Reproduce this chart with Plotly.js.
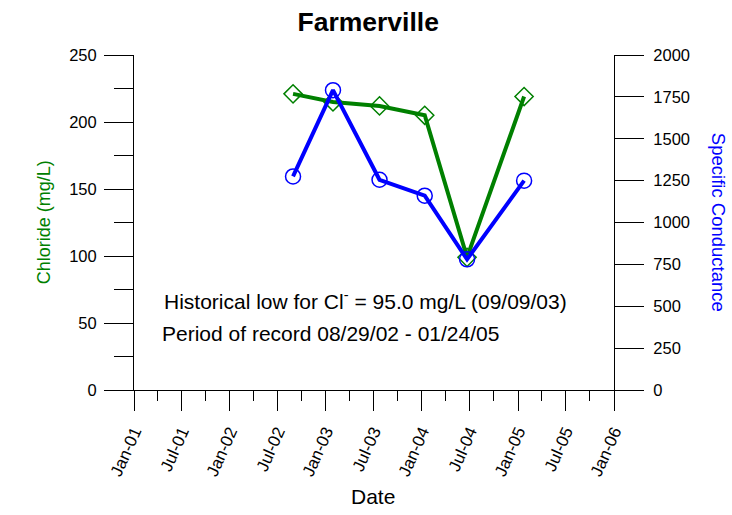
<!DOCTYPE html>
<html>
<head>
<meta charset="utf-8">
<script src="https://cdn.plot.ly/plotly-3.0.1.min.js"></script>
<style>html,body{margin:0;padding:0;background:#fff;}#chart{width:732px;height:515px;}</style>
</head>
<body>
<div id="chart"></div>
<script>
const sampleDates = ['2002-08-29','2003-01-28','2003-07-24','2004-01-12','2004-06-21','2005-01-24'];
const chloride = [221, 215, 212, 205, 99, 219];
const specCond = [1275, 1790, 1255, 1160, 780, 1250];
const chartTitle = 'Farmerville';
const note1 = 'Historical low for Cl<sup>-</sup> = 95.0 mg/L (09/09/03)';
const note2 = 'Period of record 08/29/02 - 01/24/05';

const GREEN = '#008000', BLUE = '#0000ff';
const FONT = 'Liberation Sans, Arial, sans-serif';

const traces = [
  {x: sampleDates, y: chloride, type: 'scatter', mode: 'lines+markers', yaxis: 'y',
   line: {color: GREEN, width: 4},
   marker: {symbol: 'diamond-open', size: 14, color: GREEN, line: {color: GREEN, width: 1.5}},
   cliponaxis: false},
  {x: sampleDates, y: specCond, type: 'scatter', mode: 'lines+markers', yaxis: 'y2',
   line: {color: BLUE, width: 4},
   marker: {symbol: 'circle-open', size: 15, color: BLUE, line: {color: BLUE, width: 1.5}},
   cliponaxis: false}
];

const layout = {
  width: 732, height: 515,
  margin: {l: 134, r: 118, t: 55, b: 125},
  paper_bgcolor: '#fff', plot_bgcolor: '#fff',
  showlegend: false,
  font: {family: FONT, color: '#000', size: 15},
  title: {text: '<b>' + chartTitle + '</b>', font: {size: 26.5, family: FONT, color: '#000'},
          x: 0.503, xanchor: 'center', y: 0.958, yanchor: 'middle'},
  xaxis: {
    type: 'date', range: ['2001-01-01', '2006-01-01'],
    tick0: '2001-01-01', dtick: 'M6', tickformat: '%b-%y', tickangle: -66,
    ticks: 'outside', ticklen: 20, tickwidth: 1, tickcolor: '#000',
    ticklabelstandoff: 4,
    minor: {dtick: 'M3', ticks: 'outside', ticklen: 10, tickwidth: 1, tickcolor: '#000', showgrid: false},
    showline: true, linecolor: '#000', linewidth: 1,
    showgrid: false, zeroline: false, fixedrange: true,
    tickfont: {size: 17, family: FONT, color: '#000'}
  },
  yaxis: {
    range: [0, 250], dtick: 50, tick0: 0,
    ticks: 'outside', ticklen: 29, tickwidth: 1, tickcolor: '#000',
    ticklabelstandoff: 4,
    minor: {dtick: 25, ticks: 'outside', ticklen: 19, tickwidth: 1, tickcolor: '#000', showgrid: false},
    showline: true, linecolor: '#000', linewidth: 1,
    showgrid: false, zeroline: false, fixedrange: true,
    tickfont: {size: 16.5, family: FONT, color: '#000'}
  },
  yaxis2: {
    overlaying: 'y', side: 'right', anchor: 'x',
    range: [0, 2000], dtick: 250, tick0: 0,
    ticks: 'outside', ticklen: 29, tickwidth: 1, tickcolor: '#000',
    ticklabelstandoff: 6,
    showline: true, linecolor: '#000', linewidth: 1,
    showgrid: false, zeroline: false, fixedrange: true,
    tickfont: {size: 16.5, family: FONT, color: '#000'}
  },
  annotations: [
    {text: note1, xref: 'paper', yref: 'paper', x: 0.058, y: 0.2687, xanchor: 'left', yanchor: 'middle',
     showarrow: false, font: {size: 21, family: FONT, color: '#000'}},
    {text: note2, xref: 'paper', yref: 'paper', x: 0.054, y: 0.170, xanchor: 'left', yanchor: 'middle',
     showarrow: false, font: {size: 21, family: FONT, color: '#000'}},
    {text: 'Chloride (mg/L)', xref: 'paper', yref: 'paper', x: -0.188, y: 0.5, xanchor: 'center', yanchor: 'middle',
     textangle: -90, showarrow: false, font: {size: 18, family: FONT, color: GREEN}},
    {text: 'Specific Conductance', xref: 'paper', yref: 'paper', x: 1.218, y: 0.5, xanchor: 'center', yanchor: 'middle',
     textangle: 90, showarrow: false, font: {size: 18.5, family: FONT, color: BLUE}},
    {text: 'Date', xref: 'paper', yref: 'paper', x: 0.497, y: -0.318, xanchor: 'center', yanchor: 'middle',
     showarrow: false, font: {size: 21, family: FONT, color: '#000'}}
  ]
};

Plotly.newPlot('chart', traces, layout, {displayModeBar: false, staticPlot: true});
</script>
</body>
</html>
